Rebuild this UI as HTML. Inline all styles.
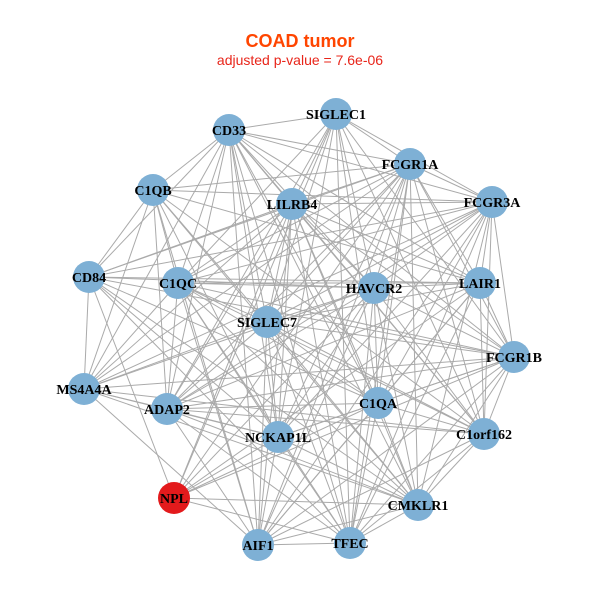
<!DOCTYPE html>
<html><head><meta charset="utf-8"><style>
html,body{margin:0;padding:0;background:#fff;}
svg{display:block;}
.t{font-family:"Liberation Sans",sans-serif;}
.n{font-family:"Liberation Serif",serif;font-weight:bold;font-size:14px;fill:#000;text-anchor:middle;}
</style></head><body>
<svg id="s" width="600" height="600" xmlns="http://www.w3.org/2000/svg">
<text class="t" x="300" y="47" text-anchor="middle" font-size="18" font-weight="bold" fill="#ff4500">COAD tumor</text>
<text class="t" x="300" y="65" text-anchor="middle" font-size="14" fill="#e8251a">adjusted p-value = 7.6e-06</text>
<g id="e" stroke="#aaaaaa" stroke-width="1"></g>
<g id="v"></g>
</svg>
<script>
var N=[["SIGLEC1",336,114],["CD33",229,130],["FCGR1A",410,164],["C1QB",153,190],["FCGR3A",492,202],["LILRB4",292,204],["CD84",89,277],["C1QC",178,283],["HAVCR2",374,288],["LAIR1",480,283],["SIGLEC7",267,322],["FCGR1B",514,357],["MS4A4A",84,389],["ADAP2",167,409],["C1QA",378,403],["NCKAP1L",278,437],["C1orf162",484,434],["NPL",174,498],["CMKLR1",418,505],["AIF1",258,545],["TFEC",350,543]];
var ns="http://www.w3.org/2000/svg",e=document.getElementById("e"),v=document.getElementById("v");
for(var i=0;i<N.length;i++)for(var j=i+1;j<N.length;j++){
 if((i*7+j*3)%9==0)continue;
 if((N[i][0]=="NPL"||N[j][0]=="NPL")&&(i+j)%3==0)continue;
 var l=document.createElementNS(ns,"line");
 l.setAttribute("x1",N[i][1]);l.setAttribute("y1",N[i][2]);l.setAttribute("x2",N[j][1]);l.setAttribute("y2",N[j][2]);e.appendChild(l);}
N.forEach(function(n){
 var c=document.createElementNS(ns,"circle");c.setAttribute("cx",n[1]);c.setAttribute("cy",n[2]);c.setAttribute("r",16);
 c.setAttribute("fill",n[0]=="NPL"?"#e31a1c":"#7eb0d5");v.appendChild(c);
 var t=document.createElementNS(ns,"text");t.setAttribute("class","n");t.setAttribute("x",n[1]);t.setAttribute("y",n[2]+5);t.textContent=n[0];v.appendChild(t);});
</script>
</body></html>
